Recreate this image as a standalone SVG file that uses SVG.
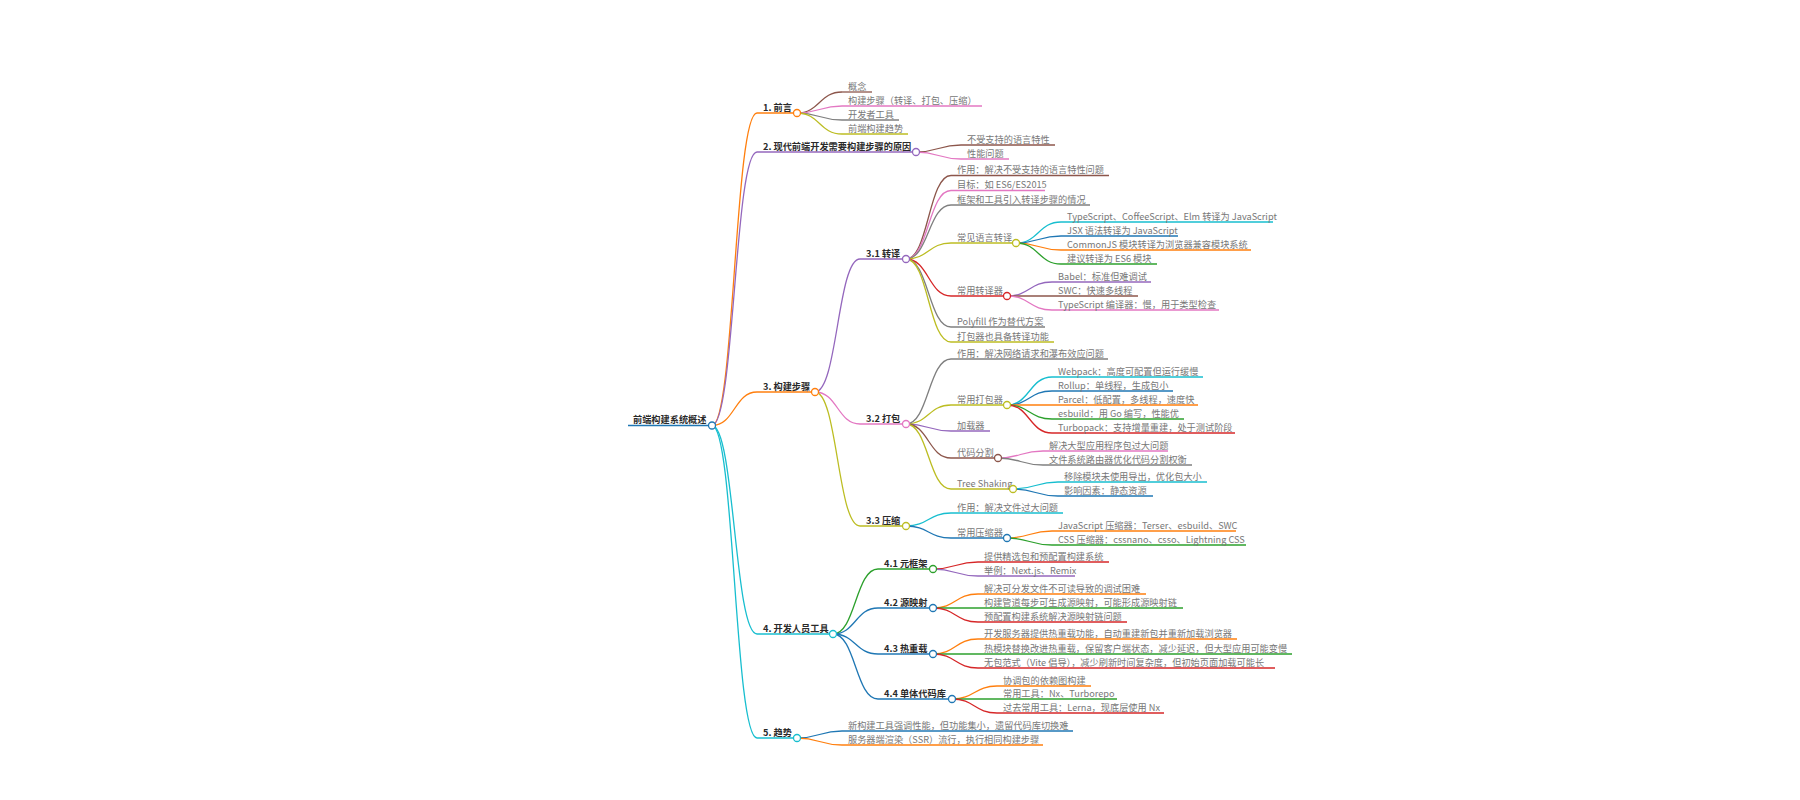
<svg xmlns="http://www.w3.org/2000/svg" width="1800" height="800" viewBox="0 0 1800 800">
<style>
.lk{fill:none;stroke-width:1.3}
.ul{stroke-width:1.3;fill:none}
.t{font-family:"Noto Sans CJK SC","Noto Sans",sans-serif;font-size:9.2px;fill:#777}
.b{font-weight:700;fill:#2a2a2a}
.dot{fill:#fff;stroke-width:1.3}
.blue{stroke:#1f77b4}.orange{stroke:#ff7f0e}.green{stroke:#2ca02c}.red{stroke:#d62728}.purple{stroke:#9467bd}
.brown{stroke:#8c564b}.pink{stroke:#e377c2}.gray{stroke:#7f7f7f}.olive{stroke:#bcbd22}.cyan{stroke:#17becf}
</style>
<rect width="1800" height="800" fill="#fff"/>
<g id="connectors">
<path class="lk orange" d="M712,425.5 C734.5,425.5 734.5,113 757,113"/>
<path class="lk purple" d="M712,425.5 C734.5,425.5 734.5,152 757,152"/>
<path class="lk orange" d="M712,425.5 C734.5,425.5 734.5,392 757,392"/>
<path class="lk cyan" d="M712,425.5 C734.5,425.5 734.5,634 757,634"/>
<path class="lk cyan" d="M712,425.5 C734.5,425.5 734.5,738 757,738"/>
<path class="lk brown" d="M797,113 C819.5,113 819.5,92 842,92"/>
<path class="lk pink" d="M797,113 C819.5,113 819.5,106 842,106"/>
<path class="lk gray" d="M797,113 C819.5,113 819.5,120 842,120"/>
<path class="lk olive" d="M797,113 C819.5,113 819.5,134 842,134"/>
<path class="lk brown" d="M916,152 C938.5,152 938.5,145 961,145"/>
<path class="lk pink" d="M916,152 C938.5,152 938.5,159 961,159"/>
<path class="lk purple" d="M815,392 C837.5,392 837.5,259 860,259"/>
<path class="lk pink" d="M815,392 C837.5,392 837.5,424 860,424"/>
<path class="lk olive" d="M815,392 C837.5,392 837.5,526 860,526"/>
<path class="lk brown" d="M906,259 C928.5,259 928.5,175.5 951,175.5"/>
<path class="lk pink" d="M906,259 C928.5,259 928.5,190.5 951,190.5"/>
<path class="lk gray" d="M906,259 C928.5,259 928.5,205 951,205"/>
<path class="lk olive" d="M906,259 C928.5,259 928.5,243 951,243"/>
<path class="lk red" d="M906,259 C928.5,259 928.5,296 951,296"/>
<path class="lk gray" d="M906,259 C928.5,259 928.5,327 951,327"/>
<path class="lk olive" d="M906,259 C928.5,259 928.5,342 951,342"/>
<path class="lk cyan" d="M1016,243 C1038.5,243 1038.5,222 1061,222"/>
<path class="lk blue" d="M1016,243 C1038.5,243 1038.5,236 1061,236"/>
<path class="lk orange" d="M1016,243 C1038.5,243 1038.5,250 1061,250"/>
<path class="lk green" d="M1016,243 C1038.5,243 1038.5,264 1061,264"/>
<path class="lk purple" d="M1007,296 C1029.5,296 1029.5,282 1052,282"/>
<path class="lk brown" d="M1007,296 C1029.5,296 1029.5,296 1052,296"/>
<path class="lk pink" d="M1007,296 C1029.5,296 1029.5,310 1052,310"/>
<path class="lk gray" d="M906,424 C928.5,424 928.5,359 951,359"/>
<path class="lk olive" d="M906,424 C928.5,424 928.5,405 951,405"/>
<path class="lk purple" d="M906,424 C928.5,424 928.5,431 951,431"/>
<path class="lk brown" d="M906,424 C928.5,424 928.5,458 951,458"/>
<path class="lk olive" d="M906,424 C928.5,424 928.5,489 951,489"/>
<path class="lk cyan" d="M1007,405 C1029.5,405 1029.5,377 1052,377"/>
<path class="lk blue" d="M1007,405 C1029.5,405 1029.5,391 1052,391"/>
<path class="lk orange" d="M1007,405 C1029.5,405 1029.5,405 1052,405"/>
<path class="lk green" d="M1007,405 C1029.5,405 1029.5,419 1052,419"/>
<path class="lk red" d="M1007,405 C1029.5,405 1029.5,433 1052,433"/>
<path class="lk pink" d="M998,458 C1020.5,458 1020.5,451 1043,451"/>
<path class="lk gray" d="M998,458 C1020.5,458 1020.5,465 1043,465"/>
<path class="lk cyan" d="M1013,489 C1035.5,489 1035.5,482 1058,482"/>
<path class="lk blue" d="M1013,489 C1035.5,489 1035.5,496 1058,496"/>
<path class="lk cyan" d="M906,526 C928.5,526 928.5,513 951,513"/>
<path class="lk blue" d="M906,526 C928.5,526 928.5,538 951,538"/>
<path class="lk orange" d="M1007,538 C1029.5,538 1029.5,531 1052,531"/>
<path class="lk green" d="M1007,538 C1029.5,538 1029.5,545 1052,545"/>
<path class="lk green" d="M833,634 C855.5,634 855.5,569 878,569"/>
<path class="lk blue" d="M833,634 C855.5,634 855.5,608 878,608"/>
<path class="lk blue" d="M833,634 C855.5,634 855.5,654 878,654"/>
<path class="lk blue" d="M833,634 C855.5,634 855.5,699 878,699"/>
<path class="lk red" d="M933,569 C955.5,569 955.5,562 978,562"/>
<path class="lk purple" d="M933,569 C955.5,569 955.5,576 978,576"/>
<path class="lk orange" d="M933,608 C955.5,608 955.5,594 978,594"/>
<path class="lk green" d="M933,608 C955.5,608 955.5,608 978,608"/>
<path class="lk red" d="M933,608 C955.5,608 955.5,622 978,622"/>
<path class="lk orange" d="M933,654 C955.5,654 955.5,639 978,639"/>
<path class="lk green" d="M933,654 C955.5,654 955.5,654 978,654"/>
<path class="lk red" d="M933,654 C955.5,654 955.5,668 978,668"/>
<path class="lk orange" d="M952,699 C974.5,699 974.5,686 997,686"/>
<path class="lk green" d="M952,699 C974.5,699 974.5,699 997,699"/>
<path class="lk red" d="M952,699 C974.5,699 974.5,713 997,713"/>
<path class="lk blue" d="M797,738 C819.5,738 819.5,731 842,731"/>
<path class="lk orange" d="M797,738 C819.5,738 819.5,745 842,745"/>
</g>

<g id="root"><line class="ul blue" x1="628" y1="425.5" x2="712" y2="425.5"/><text class="t b" x="633" y="423">前端构建系统概述</text><circle class="dot blue" cx="712" cy="425.5" r="3.5"/></g>

<g id="n1"><line class="ul orange" x1="757" y1="113" x2="797" y2="113"/><text class="t b" x="763" y="110.5">1. 前言</text><circle class="dot orange" cx="797" cy="113" r="3.5"/></g>
<g id="n1-1"><line class="ul brown" x1="842" y1="92" x2="872" y2="92"/><text class="t" x="848" y="89.5">概念</text></g>
<g id="n1-2"><line class="ul pink" x1="842" y1="106" x2="982" y2="106"/><text class="t" x="848" y="103.5">构建步骤（转译、打包、压缩）</text></g>
<g id="n1-3"><line class="ul gray" x1="842" y1="120" x2="899" y2="120"/><text class="t" x="848" y="117.5">开发者工具</text></g>
<g id="n1-4"><line class="ul olive" x1="842" y1="134" x2="908" y2="134"/><text class="t" x="848" y="131.5">前端构建趋势</text></g>

<g id="n2"><line class="ul purple" x1="757" y1="152" x2="916" y2="152"/><text class="t b" x="763" y="149.5">2. 现代前端开发需要构建步骤的原因</text><circle class="dot purple" cx="916" cy="152" r="3.5"/></g>
<g id="n2-1"><line class="ul brown" x1="961" y1="145" x2="1055" y2="145"/><text class="t" x="967" y="142.5">不受支持的语言特性</text></g>
<g id="n2-2"><line class="ul pink" x1="961" y1="159" x2="1009" y2="159"/><text class="t" x="967" y="156.5">性能问题</text></g>

<g id="n3"><line class="ul orange" x1="757" y1="392" x2="815" y2="392"/><text class="t b" x="763" y="389.5">3. 构建步骤</text><circle class="dot orange" cx="815" cy="392" r="3.5"/></g>
<g id="n3-1"><line class="ul purple" x1="860" y1="259" x2="906" y2="259"/><text class="t b" x="866" y="256.5">3.1 转译</text><circle class="dot purple" cx="906" cy="259" r="3.5"/></g>
<g id="n3-1-1"><line class="ul brown" x1="951" y1="175.5" x2="1109" y2="175.5"/><text class="t" x="957" y="173">作用：解决不受支持的语言特性问题</text></g>
<g id="n3-1-2"><line class="ul pink" x1="951" y1="190.5" x2="1045" y2="190.5"/><text class="t" x="957" y="188">目标：如 ES6/ES2015</text></g>
<g id="n3-1-3"><line class="ul gray" x1="951" y1="205" x2="1090" y2="205"/><text class="t" x="957" y="202.5">框架和工具引入转译步骤的情况</text></g>
<g id="n3-1-4"><line class="ul olive" x1="951" y1="243" x2="1016" y2="243"/><text class="t" x="957" y="240.5">常见语言转译</text><circle class="dot olive" cx="1016" cy="243" r="3.5"/></g>
<g id="n3-1-4-1"><line class="ul cyan" x1="1061" y1="222" x2="1273" y2="222"/><text class="t" x="1067" y="219.5">TypeScript、CoffeeScript、Elm 转译为 JavaScript</text></g>
<g id="n3-1-4-2"><line class="ul blue" x1="1061" y1="236" x2="1178" y2="236"/><text class="t" x="1067" y="233.5">JSX 语法转译为 JavaScript</text></g>
<g id="n3-1-4-3"><line class="ul orange" x1="1061" y1="250" x2="1251" y2="250"/><text class="t" x="1067" y="247.5">CommonJS 模块转译为浏览器兼容模块系统</text></g>
<g id="n3-1-4-4"><line class="ul green" x1="1061" y1="264" x2="1157" y2="264"/><text class="t" x="1067" y="261.5">建议转译为 ES6 模块</text></g>
<g id="n3-1-5"><line class="ul red" x1="951" y1="296" x2="1007" y2="296"/><text class="t" x="957" y="293.5">常用转译器</text><circle class="dot red" cx="1007" cy="296" r="3.5"/></g>
<g id="n3-1-5-1"><line class="ul purple" x1="1052" y1="282" x2="1151" y2="282"/><text class="t" x="1058" y="279.5">Babel：标准但难调试</text></g>
<g id="n3-1-5-2"><line class="ul brown" x1="1052" y1="296" x2="1138" y2="296"/><text class="t" x="1058" y="293.5">SWC：快速多线程</text></g>
<g id="n3-1-5-3"><line class="ul pink" x1="1052" y1="310" x2="1219" y2="310"/><text class="t" x="1058" y="307.5">TypeScript 编译器：慢，用于类型检查</text></g>
<g id="n3-1-6"><line class="ul gray" x1="951" y1="327" x2="1045" y2="327"/><text class="t" x="957" y="324.5">Polyfill 作为替代方案</text></g>
<g id="n3-1-7"><line class="ul olive" x1="951" y1="342" x2="1054" y2="342"/><text class="t" x="957" y="339.5">打包器也具备转译功能</text></g>

<g id="n3-2"><line class="ul pink" x1="860" y1="424" x2="906" y2="424"/><text class="t b" x="866" y="421.5">3.2 打包</text><circle class="dot pink" cx="906" cy="424" r="3.5"/></g>
<g id="n3-2-1"><line class="ul gray" x1="951" y1="359" x2="1108" y2="359"/><text class="t" x="957" y="356.5">作用：解决网络请求和瀑布效应问题</text></g>
<g id="n3-2-2"><line class="ul olive" x1="951" y1="405" x2="1007" y2="405"/><text class="t" x="957" y="402.5">常用打包器</text><circle class="dot olive" cx="1007" cy="405" r="3.5"/></g>
<g id="n3-2-2-1"><line class="ul cyan" x1="1052" y1="377" x2="1203" y2="377"/><text class="t" x="1058" y="374.5">Webpack：高度可配置但运行缓慢</text></g>
<g id="n3-2-2-2"><line class="ul blue" x1="1052" y1="391" x2="1173" y2="391"/><text class="t" x="1058" y="388.5">Rollup：单线程，生成包小</text></g>
<g id="n3-2-2-3"><line class="ul orange" x1="1052" y1="405" x2="1198" y2="405"/><text class="t" x="1058" y="402.5">Parcel：低配置，多线程，速度快</text></g>
<g id="n3-2-2-4"><line class="ul green" x1="1052" y1="419" x2="1184" y2="419"/><text class="t" x="1058" y="416.5">esbuild：用 Go 编写，性能优</text></g>
<g id="n3-2-2-5"><line class="ul red" x1="1052" y1="433" x2="1235" y2="433"/><text class="t" x="1058" y="430.5">Turbopack：支持增量重建，处于测试阶段</text></g>
<g id="n3-2-3"><line class="ul purple" x1="951" y1="431" x2="990" y2="431"/><text class="t" x="957" y="428.5">加载器</text></g>
<g id="n3-2-4"><line class="ul brown" x1="951" y1="458" x2="998" y2="458"/><text class="t" x="957" y="455.5">代码分割</text><circle class="dot brown" cx="998" cy="458" r="3.5"/></g>
<g id="n3-2-4-1"><line class="ul pink" x1="1043" y1="451" x2="1168" y2="451"/><text class="t" x="1049" y="448.5">解决大型应用程序包过大问题</text></g>
<g id="n3-2-4-2"><line class="ul gray" x1="1043" y1="465" x2="1192" y2="465"/><text class="t" x="1049" y="462.5">文件系统路由器优化代码分割权衡</text></g>
<g id="n3-2-5"><line class="ul olive" x1="951" y1="489" x2="1013" y2="489"/><text class="t" x="957" y="486.5">Tree Shaking</text><circle class="dot olive" cx="1013" cy="489" r="3.5"/></g>
<g id="n3-2-5-1"><line class="ul cyan" x1="1058" y1="482" x2="1207" y2="482"/><text class="t" x="1064" y="479.5">移除模块未使用导出，优化包大小</text></g>
<g id="n3-2-5-2"><line class="ul blue" x1="1058" y1="496" x2="1153" y2="496"/><text class="t" x="1064" y="493.5">影响因素：静态资源</text></g>

<g id="n3-3"><line class="ul olive" x1="860" y1="526" x2="906" y2="526"/><text class="t b" x="866" y="523.5">3.3 压缩</text><circle class="dot olive" cx="906" cy="526" r="3.5"/></g>
<g id="n3-3-1"><line class="ul cyan" x1="951" y1="513" x2="1063" y2="513"/><text class="t" x="957" y="510.5">作用：解决文件过大问题</text></g>
<g id="n3-3-2"><line class="ul blue" x1="951" y1="538" x2="1007" y2="538"/><text class="t" x="957" y="535.5">常用压缩器</text><circle class="dot blue" cx="1007" cy="538" r="3.5"/></g>
<g id="n3-3-2-1"><line class="ul orange" x1="1052" y1="531" x2="1236" y2="531"/><text class="t" x="1058" y="528.5">JavaScript 压缩器：Terser、esbuild、SWC</text></g>
<g id="n3-3-2-2"><line class="ul green" x1="1052" y1="545" x2="1246" y2="545"/><text class="t" x="1058" y="542.5">CSS 压缩器：cssnano、csso、Lightning CSS</text></g>

<g id="n4"><line class="ul cyan" x1="757" y1="634" x2="833" y2="634"/><text class="t b" x="763" y="631.5">4. 开发人员工具</text><circle class="dot cyan" cx="833" cy="634" r="3.5"/></g>
<g id="n4-1"><line class="ul green" x1="878" y1="569" x2="933" y2="569"/><text class="t b" x="884" y="566.5">4.1 元框架</text><circle class="dot green" cx="933" cy="569" r="3.5"/></g>
<g id="n4-1-1"><line class="ul red" x1="978" y1="562" x2="1109" y2="562"/><text class="t" x="984" y="559.5">提供精选包和预配置构建系统</text></g>
<g id="n4-1-2"><line class="ul purple" x1="978" y1="576" x2="1075" y2="576"/><text class="t" x="984" y="573.5">举例：Next.js、Remix</text></g>
<g id="n4-2"><line class="ul blue" x1="878" y1="608" x2="933" y2="608"/><text class="t b" x="884" y="605.5">4.2 源映射</text><circle class="dot blue" cx="933" cy="608" r="3.5"/></g>
<g id="n4-2-1"><line class="ul orange" x1="978" y1="594" x2="1146" y2="594"/><text class="t" x="984" y="591.5">解决可分发文件不可读导致的调试困难</text></g>
<g id="n4-2-2"><line class="ul green" x1="978" y1="608" x2="1183" y2="608"/><text class="t" x="984" y="605.5">构建管道每步可生成源映射，可能形成源映射链</text></g>
<g id="n4-2-3"><line class="ul red" x1="978" y1="622" x2="1127" y2="622"/><text class="t" x="984" y="619.5">预配置构建系统解决源映射链问题</text></g>
<g id="n4-3"><line class="ul blue" x1="878" y1="654" x2="933" y2="654"/><text class="t b" x="884" y="651.5">4.3 热重载</text><circle class="dot blue" cx="933" cy="654" r="3.5"/></g>
<g id="n4-3-1"><line class="ul orange" x1="978" y1="639" x2="1237" y2="639"/><text class="t" x="984" y="636.5">开发服务器提供热重载功能，自动重建新包并重新加载浏览器</text></g>
<g id="n4-3-2"><line class="ul green" x1="978" y1="654" x2="1292" y2="654"/><text class="t" x="984" y="651.5">热模块替换改进热重载，保留客户端状态，减少延迟，但大型应用可能变慢</text></g>
<g id="n4-3-3"><line class="ul red" x1="978" y1="668" x2="1275" y2="668"/><text class="t" x="984" y="665.5">无包范式（Vite 倡导），减少刷新时间复杂度，但初始页面加载可能长</text></g>
<g id="n4-4"><line class="ul blue" x1="878" y1="699" x2="952" y2="699"/><text class="t b" x="884" y="696.5">4.4 单体代码库</text><circle class="dot blue" cx="952" cy="699" r="3.5"/></g>
<g id="n4-4-1"><line class="ul orange" x1="997" y1="686" x2="1091" y2="686"/><text class="t" x="1003" y="683.5">协调包的依赖图构建</text></g>
<g id="n4-4-2"><line class="ul green" x1="997" y1="699" x2="1117" y2="699"/><text class="t" x="1003" y="696.5">常用工具：Nx、Turborepo</text></g>
<g id="n4-4-3"><line class="ul red" x1="997" y1="713" x2="1164" y2="713"/><text class="t" x="1003" y="710.5">过去常用工具：Lerna，现底层使用 Nx</text></g>

<g id="n5"><line class="ul cyan" x1="757" y1="738" x2="797" y2="738"/><text class="t b" x="763" y="735.5">5. 趋势</text><circle class="dot cyan" cx="797" cy="738" r="3.5"/></g>
<g id="n5-1"><line class="ul blue" x1="842" y1="731" x2="1073" y2="731"/><text class="t" x="848" y="728.5">新构建工具强调性能，但功能集小，遗留代码库切换难</text></g>
<g id="n5-2"><line class="ul orange" x1="842" y1="745" x2="1043" y2="745"/><text class="t" x="848" y="742.5">服务器端渲染（SSR）流行，执行相同构建步骤</text></g>
</svg>
